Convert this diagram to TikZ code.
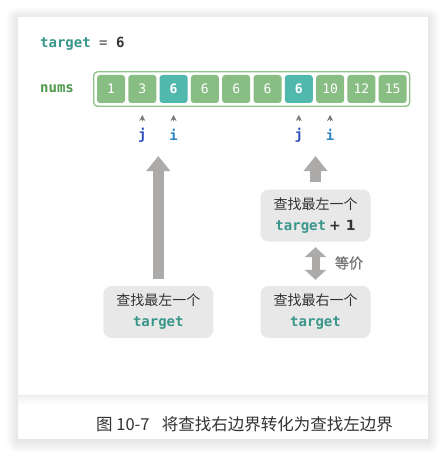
\documentclass[tikz,border=0pt]{standalone}
\usepackage{fontspec}
\setmainfont{Noto Sans CJK SC}
\setmonofont{DejaVu Sans Mono}
\newfontfamily\plusfont{DejaVu Sans}
\newfontfamily\eqfont{Noto Sans CJK SC}[FakeBold=1.5]
\usetikzlibrary{arrows.meta}
\definecolor{cellgreen}{HTML}{88BD83}
\definecolor{cellteal}{HTML}{50B8AD}
\definecolor{framegreen}{HTML}{8EC38A}
\definecolor{tgtteal}{HTML}{3A978B}
\definecolor{numsgreen}{HTML}{4E9A4A}
\definecolor{darktext}{HTML}{333333}
\definecolor{midgray}{HTML}{777777}
\definecolor{boxgray}{HTML}{E8E8E8}
\definecolor{arrowgray}{HTML}{ADAAAA}
\definecolor{jblue}{HTML}{2D4FC2}
\definecolor{iblue}{HTML}{2E85C6}
\begin{document}
\begin{tikzpicture}[x=1pt,y=-1pt,
  cellbox/.style={rounded corners=3pt, minimum width=28pt, minimum height=28pt, inner sep=0pt, text=white, font=\ttfamily\fontsize{13}{13}\selectfont},
  infobox/.style={fill=boxgray, rounded corners=8pt, minimum width=110pt, minimum height=52pt, inner sep=0pt, align=center, text=darktext, font=\fontsize{14}{21}\selectfont},
  ptrlabel/.style={font=\ttfamily\bfseries\fontsize{14}{14}\selectfont, inner sep=0pt},
  ptr/.style={draw=midgray, line width=0.6pt, -{Stealth[length=6pt,width=6pt,inset=2pt]}},
  bigarrow/.style={draw=arrowgray, line width=11pt, line cap=butt, -{Triangle[length=15pt,width=23pt]}},
  dblarrow/.style={draw=arrowgray, line width=8pt, line cap=butt, {Triangle[length=10pt,width=21pt]}-{Triangle[length=10pt,width=21pt]}}
]
\useasboundingbox (0,0) rectangle (446,457);
% card shadow
\foreach \s in {1,...,12}{
  \fill[black, opacity=0.006, rounded corners=\s pt] (18-\s,19-\s) rectangle (428+\s,441+\s);
}
\fill[white] (18,17) rectangle (428,439);
\fill[black!7] (18,394.5) rectangle (428,396);
\shade[top color=black!5, bottom color=white] (18,396) rectangle (428,405);

% header texts
\node[anchor=west, inner sep=0pt, font=\ttfamily\bfseries\fontsize{14}{14}\selectfont] (tline) at (40,44)
  {\textcolor{tgtteal}{target} \textcolor{midgray}{=} \textcolor{darktext}{6}};
\node[anchor=west, inner sep=0pt, text=numsgreen, font=\ttfamily\bfseries\fontsize{14}{14}\selectfont] (nums) at (40,89) {nums};

% array
\draw[framegreen, line width=1.3pt, rounded corners=4pt, fill=white] (93.7,71.7) rectangle (409.7,106.3);
\foreach \v/\c/\w [count=\k from 0] in {1/cellgreen/\mdseries, 3/cellgreen/\mdseries, 6/cellteal/\bfseries, 6/cellgreen/\mdseries, 6/cellgreen/\mdseries, 6/cellgreen/\mdseries, 6/cellteal/\bfseries, 10/cellgreen/\mdseries, 12/cellgreen/\mdseries, 15/cellgreen/\mdseries}{
  \node[cellbox, fill=\c] (c\k) at (111+31.3*\k, 89) {\w\v};
}

% pointers
\node[ptrlabel, text=jblue] (j1) at (c1 |- 0,135) {j};
\node[ptrlabel, text=iblue] (i1) at (c2 |- 0,135) {i};
\node[ptrlabel, text=jblue] (j2) at (c6 |- 0,135) {j};
\node[ptrlabel, text=iblue] (i2) at (c7 |- 0,135) {i};
\foreach \n in {1,2,6,7}{
  \coordinate (pa\n) at (c\n |- 0,121.5);
  \coordinate (pb\n) at (c\n |- 0,115);
  \draw[ptr] (pa\n) -- (pb\n);
}

% boxes
\node[infobox] (lbox) at (158.3,312) {查找最左一个\\{\ttfamily\bfseries\color{tgtteal}target}};
\node[infobox] (rbot) at (315.5,312) {查找最右一个\\{\ttfamily\bfseries\color{tgtteal}target}};
\node[infobox] (rtop) at (315.5,215.5) {查找最左一个\\{\ttfamily\bfseries\color{tgtteal}target} {\plusfont\bfseries + 1}};

% arrows
\coordinate (ltip) at (158.3,156);
\coordinate (rtip) at (315.5,156);
\draw[bigarrow] ([yshift=7pt]lbox.north) -- (ltip);
\draw[bigarrow] ([yshift=7pt]rtop.north) -- (rtip);
\draw[dblarrow] ([yshift=6pt]rbot.north) -- ([yshift=-5.5pt]rtop.south);
\node[text=midgray, font=\eqfont\fontsize{14}{14}\selectfont, inner sep=0pt] (eq) at (349,263) {等价};

% caption
\node[anchor=west, inner sep=0pt, text=darktext, font=\fontsize{16.5}{16.5}\selectfont] (cap) at (96,424) {图 10-7\hspace{0.75em}将查找右边界转化为查找左边界};
\end{tikzpicture}
\end{document}
